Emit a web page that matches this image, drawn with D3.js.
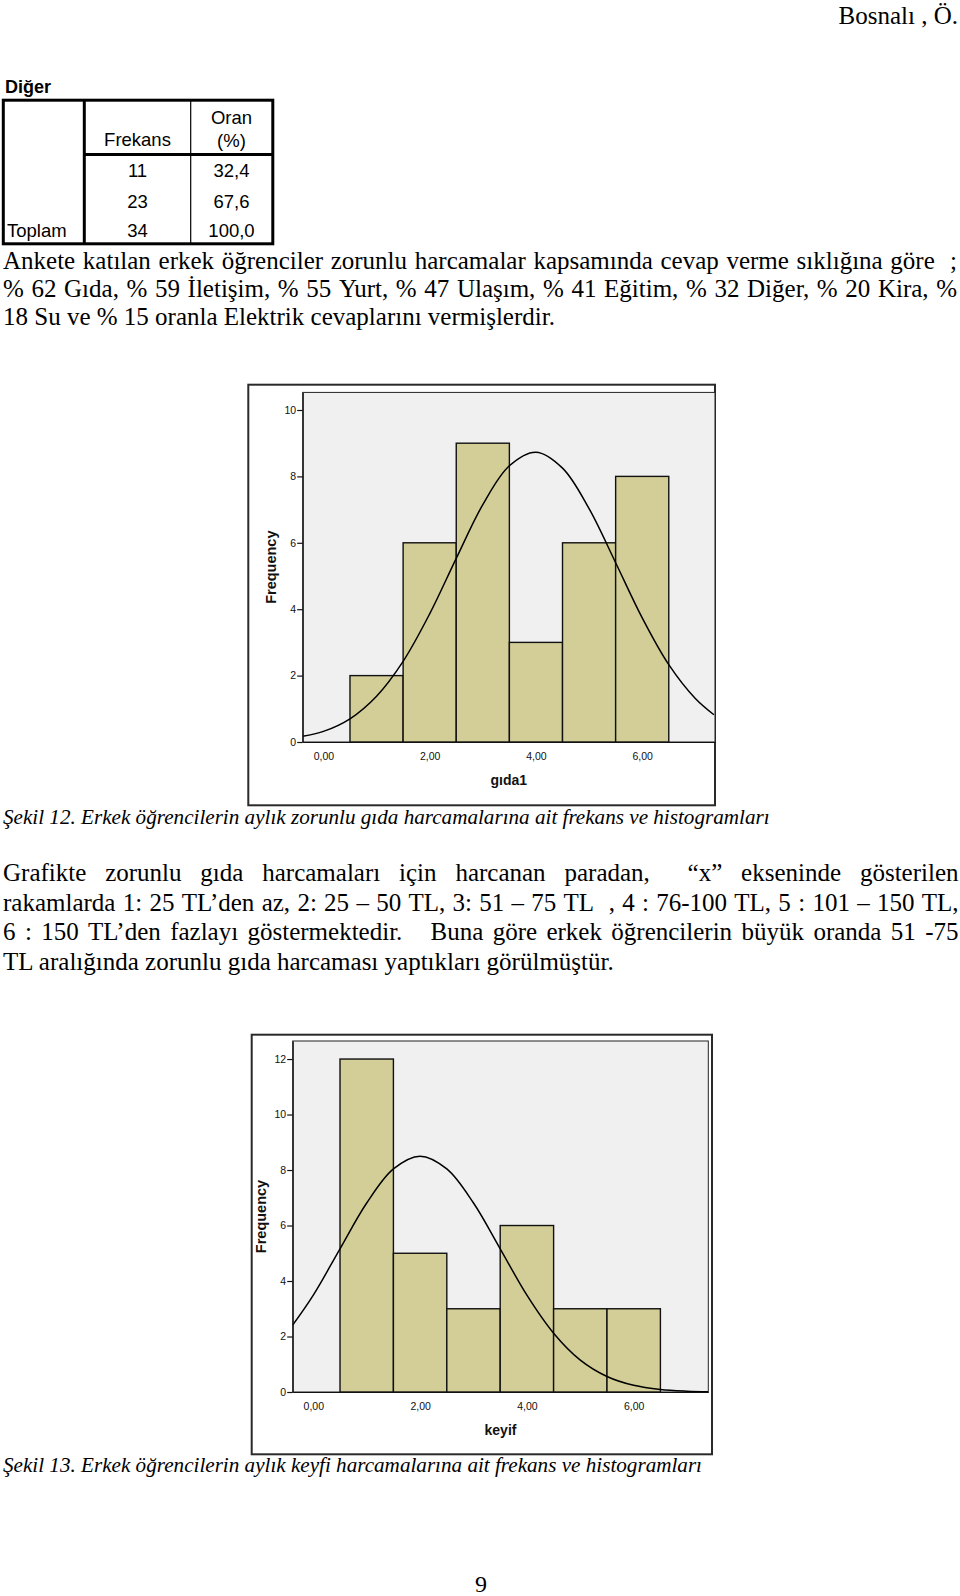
<!DOCTYPE html>
<html><head><meta charset="utf-8">
<script src="https://cdn.jsdelivr.net/npm/d3@7"></script>
<style>
html,body{margin:0;padding:0;background:#fff;}
svg{display:block;}
</style></head><body>
<svg id="page" width="960" height="1596"></svg>
<script>
// ---------- DATA ----------
const tableTitle = "Diğer";
const tableHeaders = ["Frekans", "Oran", "(%)"];
const tableRowLabels = ["", "", "Toplam"];
const tableFreq = [11, 23, 34];
const tablePct = ["32,4", "67,6", "100,0"];

const binCenters = [1, 2, 3, 4, 5, 6];
const gidaCounts = [2, 6, 9, 3, 6, 8];
const keyifCounts = [12, 5, 3, 6, 3, 3];
const gidaYTicks = [0, 2, 4, 6, 8, 10];
const keyifYTicks = [0, 2, 4, 6, 8, 10, 12];
const xTicks = [0, 2, 4, 6];

// normal curve overlays
const gidaCurveX = [-0.39, 0, 0.5, 1, 1.5, 2, 2.5, 3, 3.5, 4, 4.5, 5, 5.5, 6, 6.5, 7, 7.35];
const gidaCurveY = [0.17, 0.32, 0.70, 1.38, 2.43, 3.86, 5.53, 7.15, 8.32, 8.73, 8.25, 7.03, 5.40, 3.74, 2.33, 1.31, 0.82];
const keyifCurveX = [-0.39, 0, 0.5, 1, 1.5, 2, 2.5, 3, 3.5, 4, 4.5, 5, 5.5, 6, 6.5, 7, 7.4];
const keyifCurveY = [2.40, 3.49, 5.16, 6.81, 8.04, 8.50, 8.04, 6.81, 5.16, 3.49, 2.12, 1.15, 0.56, 0.24, 0.09, 0.03, 0.01];

const headerText = "Bosnalı , Ö.";
const para1 = [
  "Ankete katılan erkek öğrenciler zorunlu harcamalar kapsamında cevap verme sıklığına göre  ;",
  "% 62 Gıda, % 59 İletişim, % 55 Yurt, % 47 Ulaşım, % 41 Eğitim, % 32 Diğer, % 20 Kira, %",
  "18 Su ve % 15 oranla Elektrik cevaplarını vermişlerdir."
];
const caption12 = "Şekil 12. Erkek öğrencilerin aylık zorunlu gıda harcamalarına ait frekans ve histogramları";
const para2 = [
  "Grafikte zorunlu gıda harcamaları için harcanan paradan,  “x” ekseninde gösterilen",
  "rakamlarda 1: 25 TL’den az, 2: 25 – 50 TL, 3: 51 – 75 TL  , 4 : 76-100 TL, 5 : 101 – 150 TL,",
  "6 : 150 TL’den fazlayı göstermektedir.   Buna göre erkek öğrencilerin büyük oranda 51 -75",
  "TL aralığında zorunlu gıda harcaması yaptıkları görülmüştür."
];
const caption13 = "Şekil 13. Erkek öğrencilerin aylık keyfi harcamalarına ait frekans ve histogramları";
const pageNumber = "9";

// ---------- STYLES ----------
const SERIF = "'Liberation Serif','Times New Roman',serif";
const SANS = "'Liberation Sans',Arial,sans-serif";
const BAR_FILL = "#d3ce97";
const PLOT_BG = "#f0f0f0";

const svg = d3.select("#page");
const tmp = svg.append("text").attr("x", -1000).attr("y", -1000);
function measure(text, family, size, weight, style) {
  tmp.attr("font-family", family).attr("font-size", size)
     .attr("font-weight", weight || "normal").attr("font-style", style || "normal").text(text);
  return tmp.node().getComputedTextLength();
}

// ---------- HEADER ----------
svg.append("text").attr("x", 958).attr("y", 24).attr("text-anchor", "end")
  .attr("font-family", SERIF).attr("font-size", 25).text(headerText);

// ---------- TABLE ----------
const tg = svg.append("g");
tg.append("text").attr("x", 5).attr("y", 93).attr("font-family", SANS)
  .attr("font-size", 18).attr("font-weight", "bold").text(tableTitle);
const tb = {x0: 3.3, x1: 272.8, y0: 100.2, y1: 243.8, c1: 84.3, c2: 190.7, h: 154.6};
tg.append("rect").attr("x", tb.x0).attr("y", tb.y0).attr("width", tb.x1 - tb.x0).attr("height", tb.y1 - tb.y0)
  .attr("fill", "none").attr("stroke", "#000").attr("stroke-width", 3);
tg.append("line").attr("x1", tb.c1).attr("x2", tb.c1).attr("y1", tb.y0).attr("y2", tb.y1)
  .attr("stroke", "#000").attr("stroke-width", 3);
tg.append("line").attr("x1", tb.c2).attr("x2", tb.c2).attr("y1", tb.y0).attr("y2", tb.y1)
  .attr("stroke", "#000").attr("stroke-width", 1.2);
tg.append("line").attr("x1", tb.c1).attr("x2", tb.x1).attr("y1", tb.h).attr("y2", tb.h)
  .attr("stroke", "#000").attr("stroke-width", 3);
const col2 = 137.5, col3 = 231.5;
const tstyle = t => t.attr("font-family", SANS).attr("font-size", 18.5).attr("fill", "#000");
tstyle(tg.append("text").attr("x", col2).attr("y", 146).attr("text-anchor", "middle").text(tableHeaders[0]));
tstyle(tg.append("text").attr("x", col3).attr("y", 124).attr("text-anchor", "middle").text(tableHeaders[1]));
tstyle(tg.append("text").attr("x", col3).attr("y", 146.5).attr("text-anchor", "middle").text(tableHeaders[2]));
const rowBase = [177, 207.5, 236.5];
tableFreq.forEach((v, i) => {
  tstyle(tg.append("text").attr("x", col2).attr("y", rowBase[i]).attr("text-anchor", "middle").text(v));
  tstyle(tg.append("text").attr("x", col3).attr("y", rowBase[i]).attr("text-anchor", "middle").text(tablePct[i]));
  if (tableRowLabels[i]) tstyle(tg.append("text").attr("x", 7).attr("y", rowBase[i]).text(tableRowLabels[i]));
});

// ---------- JUSTIFIED TEXT ----------
function textLine(line, x0, x1, y, justify) {
  const size = 25;
  const t = svg.append("text").attr("y", y).attr("font-family", SERIF).attr("font-size", size).attr("fill", "#000");
  if (!justify) { t.attr("x", x0).text(line); return; }
  const parts = line.split(" ");
  const words = []; let empty = 0;
  parts.forEach(p => {
    if (p === "") { empty++; }
    else { words.push({w: p, sp: words.length ? empty + 1 : 0}); empty = 0; }
  });
  words.forEach(d => d.len = measure(d.w, SERIF, size));
  const sumW = d3.sum(words, d => d.len);
  const sumSp = d3.sum(words, d => d.sp);
  const unit = (x1 - x0 - sumW) / sumSp;
  let x = x0;
  words.forEach(d => {
    x += d.sp * unit;
    t.append("tspan").attr("x", x).text(d.w);
    x += d.len;
  });
}
const p1Base = [269, 297, 325];
para1.forEach((l, i) => textLine(l, 3, 957, p1Base[i], i < para1.length - 1));
const p2Base = [881, 910.5, 940, 969.5];
para2.forEach((l, i) => textLine(l, 3, 958.5, p2Base[i], i < para2.length - 1));

// ---------- CAPTIONS ----------
const capSize = 22;
const cap13W = measure(caption13, SERIF, capSize, "normal", "italic");
const capScale = 699 / cap13W;
[[caption12, 824], [caption13, 1472]].forEach(([c, y]) => {
  const w = measure(c, SERIF, capSize, "normal", "italic") * capScale;
  svg.append("text").attr("x", 3).attr("y", y).attr("font-family", SERIF).attr("font-size", capSize)
    .attr("font-style", "italic").attr("textLength", w).attr("lengthAdjust", "spacingAndGlyphs").text(c);
});

// page number
svg.append("text").attr("x", 481).attr("y", 1592).attr("text-anchor", "middle")
  .attr("font-family", SERIF).attr("font-size", 24).text(pageNumber);

// ---------- HISTOGRAMS ----------
const numFmt = d3.formatLocale({decimal: ",", thousands: ".", grouping: [3], currency: ["", ""]}).format(".2f");

function histogram(cfg) {
  const g = svg.append("g");
  const f = cfg.frame, p = cfg.plot;
  g.append("rect").attr("x", f.x0).attr("y", f.y0).attr("width", f.x1 - f.x0).attr("height", f.y1 - f.y0)
    .attr("fill", "#fff").attr("stroke", "#2a2a2a").attr("stroke-width", 2);
  const x = d3.scaleLinear().domain(cfg.xDomain).range([p.x0, p.x1]);
  const y = d3.scaleLinear().domain(cfg.yDomain).range([p.y1, p.y0]);
  g.append("rect").attr("x", p.x0).attr("y", p.y0).attr("width", p.x1 - p.x0).attr("height", p.y1 - p.y0)
    .attr("fill", PLOT_BG).attr("stroke", "#222").attr("stroke-width", 1);
  const clipId = "clip" + cfg.id;
  g.append("clipPath").attr("id", clipId).append("rect")
    .attr("x", p.x0).attr("y", p.y0).attr("width", p.x1 - p.x0).attr("height", p.y1 - p.y0);
  g.append("g").selectAll("rect").data(cfg.counts).join("rect")
    .attr("x", (d, i) => x(cfg.bins[i] - 0.5))
    .attr("width", (d, i) => x(cfg.bins[i] + 0.5) - x(cfg.bins[i] - 0.5))
    .attr("y", d => y(d)).attr("height", d => y(0) - y(d))
    .attr("fill", BAR_FILL).attr("stroke", "#111").attr("stroke-width", 1.4);
  const pts = cfg.curveX.map((v, i) => [v, cfg.curveY[i]]);
  g.append("path").attr("clip-path", `url(#${clipId})`)
    .attr("d", d3.line().x(d => x(d[0])).y(d => y(d[1])).curve(d3.curveCatmullRom)(pts))
    .attr("fill", "none").attr("stroke", "#000").attr("stroke-width", 1.5);
  // axes
  const ya = g.append("g").attr("transform", `translate(${p.x0},0)`)
    .call(d3.axisLeft(y).tickValues(cfg.yTicks).tickSize(5.5).tickPadding(1).tickSizeOuter(0));
  const xa = g.append("g").attr("transform", `translate(0,${y(0)})`)
    .call(d3.axisBottom(x).tickValues(xTicks).tickSize(0).tickPadding(11).tickSizeOuter(0).tickFormat(numFmt));
  [ya, xa].forEach(a => {
    a.attr("font-family", SANS).attr("font-size", 10.5);
    a.selectAll("path,line").attr("stroke", "#111").attr("stroke-width", 1.2);
    a.selectAll("text").attr("fill", "#111");
  });
  g.append("text").attr("transform", `translate(${cfg.yTitleX},${(p.y0 + p.y1) / 2}) rotate(-90)`)
    .attr("text-anchor", "middle").attr("font-family", SANS).attr("font-size", 14.5)
    .attr("font-weight", "bold").attr("fill", "#111").text("Frequency");
  g.append("text").attr("x", (p.x0 + p.x1) / 2).attr("y", cfg.xTitleY).attr("text-anchor", "middle")
    .attr("font-family", SANS).attr("font-size", 14).attr("font-weight", "bold").attr("fill", "#111")
    .text(cfg.xTitle);
}

histogram({
  id: 1, counts: gidaCounts, bins: binCenters, yTicks: gidaYTicks,
  curveX: gidaCurveX, curveY: gidaCurveY,
  frame: {x0: 248.3, y0: 384.7, x1: 715, y1: 805.3},
  plot: {x0: 302.7, y0: 392.4, x1: 715, y1: 742},
  xDomain: [-0.39, 7.37], yDomain: [0, 10.53],
  yTitleX: 276.4, xTitle: "gıda1", xTitleY: 785
});
histogram({
  id: 2, counts: keyifCounts, bins: binCenters, yTicks: keyifYTicks,
  curveX: keyifCurveX, curveY: keyifCurveY,
  frame: {x0: 251.7, y0: 1034.7, x1: 712, y1: 1454.3},
  plot: {x0: 292.7, y0: 1041, x1: 708.3, y1: 1392},
  xDomain: [-0.386, 7.397], yDomain: [0, 12.65],
  yTitleX: 266.4, xTitle: "keyif", xTitleY: 1435
});
tmp.remove();
</script>
</body></html>
